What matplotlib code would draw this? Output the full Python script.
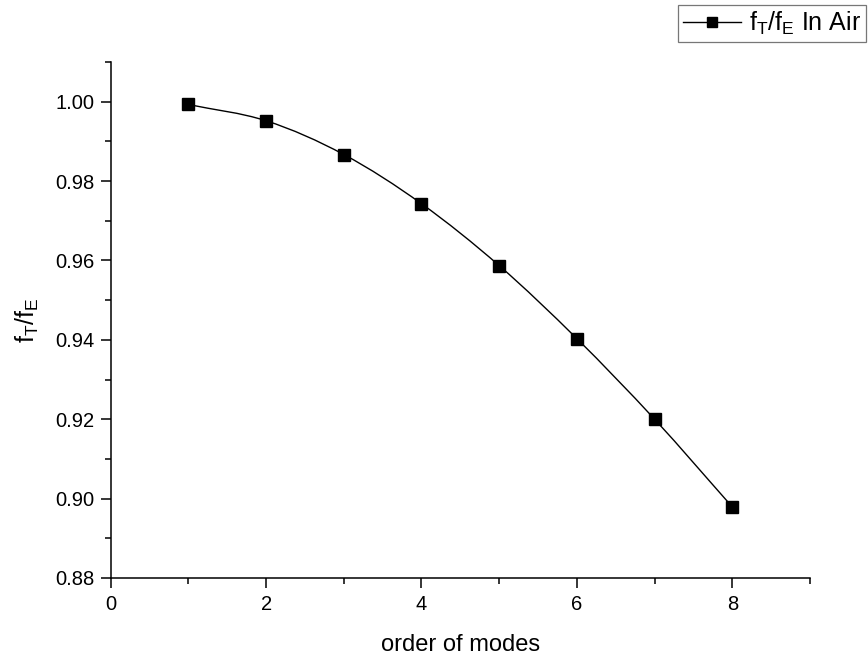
import numpy as np
import matplotlib
matplotlib.use('Agg')
import matplotlib.pyplot as plt
from matplotlib.path import Path
from matplotlib.patches import PathPatch
from matplotlib.lines import Line2D
from matplotlib.ticker import MultipleLocator, FormatStrFormatter

plt.rcParams['font.family'] = ['Liberation Sans', 'DejaVu Sans']
plt.rcParams['mathtext.default'] = 'regular'

# mode order vs. ratio of theoretical to experimental frequency
modes = [1, 2, 3, 4, 5, 6, 7, 8]
ratio_air = [0.9993, 0.9952, 0.9867, 0.9743, 0.9587, 0.9403, 0.9200, 0.8979]
series_label = r'f$_T$/f$_E$ In Air'


def smooth_path(x, y):
    # Catmull-Rom curve through the points, expressed as cubic Bezier segments
    x = np.asarray(x, float)
    y = np.asarray(y, float)
    pts = np.column_stack([x, y])
    ext = np.vstack([2 * pts[0] - pts[1], pts, 2 * pts[-1] - pts[-2]])
    verts = [tuple(pts[0])]
    codes = [Path.MOVETO]
    for i in range(1, len(ext) - 2):
        p0, p1, p2, p3 = ext[i - 1], ext[i], ext[i + 1], ext[i + 2]
        c1 = p1 + (p2 - p0) / 6.0
        c2 = p2 - (p3 - p1) / 6.0
        verts += [tuple(c1), tuple(c2), tuple(p2)]
        codes += [Path.CURVE4] * 3
    return Path(verts, codes)


fig = plt.figure(figsize=(8.68, 6.62), dpi=100)
ax = fig.add_axes([0.1275, 0.1269, 0.8057, 0.7794])

ax.add_patch(PathPatch(smooth_path(modes, ratio_air), facecolor='none',
                       edgecolor='black', linewidth=1.0))
ax.plot(modes, ratio_air, linestyle='none', marker='s', markersize=8,
        color='black')

ax.set_xlim(0, 9)
ax.set_ylim(0.88, 1.01)
ax.xaxis.set_major_locator(MultipleLocator(2))
ax.xaxis.set_minor_locator(MultipleLocator(1))
ax.yaxis.set_major_locator(MultipleLocator(0.02))
ax.yaxis.set_minor_locator(MultipleLocator(0.01))
ax.yaxis.set_major_formatter(FormatStrFormatter('%.2f'))

for side in ['top', 'right']:
    ax.spines[side].set_visible(False)
for side in ['left', 'bottom']:
    ax.spines[side].set_linewidth(1.1)

ax.tick_params(which='major', direction='out', length=7, width=1.1,
               labelsize=14.5, pad=5)
ax.tick_params(which='minor', direction='out', length=4, width=1.1)

ax.set_xlabel('order of modes', fontsize=17, labelpad=15)
ax.set_ylabel(r'f$_T$/f$_E$', fontsize=18, labelpad=10)

handle = Line2D([], [], color='black', linewidth=1.0, marker='s',
                markersize=7)
leg = fig.legend([handle], [series_label], loc='upper right',
                 bbox_to_anchor=(0.998, 0.993), fontsize=18, frameon=True,
                 fancybox=False, edgecolor='#555555', handlelength=2.3,
                 handletextpad=0.35, borderpad=0.2, borderaxespad=0.0)
leg.get_frame().set_linewidth(0.9)

fig.savefig('out.png', dpi=100, facecolor='white')
